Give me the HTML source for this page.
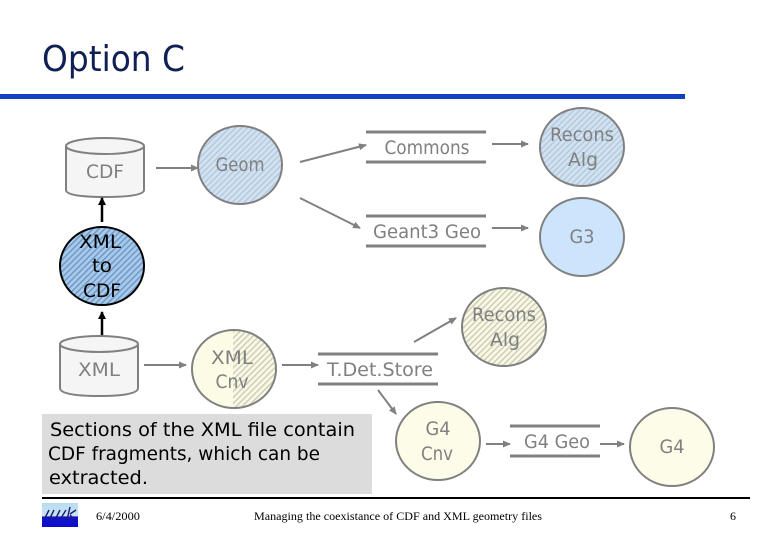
<!DOCTYPE html>
<html><head><meta charset="utf-8"><style>
html,body{margin:0;padding:0;background:#fff;width:780px;height:540px;overflow:hidden}
svg{display:block}
text{font-family:"DejaVu Sans","Liberation Sans",sans-serif}
.g{fill:#808080;font-size:19px;text-anchor:middle}
.k{fill:#000;font-size:19px}
.s{font-family:"Liberation Serif",serif;font-size:12px;fill:#000}
.c{stroke:#808080;stroke-width:2}
.b{stroke:#808080;stroke-width:3}
.a{stroke:#808080;stroke-width:2;fill:none}
</style></head><body>
<svg width="780" height="540" viewBox="0 0 780 540" xmlns="http://www.w3.org/2000/svg">
<defs>
<pattern id="h1" width="4.2" height="4.2" patternUnits="userSpaceOnUse" patternTransform="rotate(45)"><rect width="4.2" height="4.2" fill="#d0e3f5"/><rect width="1.5" height="4.2" fill="#b8c9d8"/></pattern>
<pattern id="h2" width="4.2" height="4.2" patternUnits="userSpaceOnUse" patternTransform="rotate(45)"><rect width="4.2" height="4.2" fill="#a0ccf6"/><rect width="1.5" height="4.2" fill="#7d97b2"/></pattern>
<pattern id="h3" width="4.2" height="4.2" patternUnits="userSpaceOnUse" patternTransform="rotate(45)"><rect width="4.2" height="4.2" fill="#f9f9e6"/><rect width="1.5" height="4.2" fill="#cdcdb8"/></pattern>
<marker id="m" markerWidth="8" markerHeight="8" refX="7" refY="3.5" orient="auto" markerUnits="userSpaceOnUse"><path d="M0 0L8 3.5L0 7z" fill="#808080"/></marker>
<marker id="mk" markerWidth="8" markerHeight="8" refX="7" refY="4" orient="auto" markerUnits="userSpaceOnUse"><path d="M0 0L8 4L0 8z" fill="#000"/></marker>
<linearGradient id="lg" x1="0" y1="0" x2="0" y2="1"><stop offset="0" stop-color="#b8dcf0"/><stop offset=".55" stop-color="#c8e4f0"/><stop offset=".56" stop-color="#1414c8"/><stop offset="1" stop-color="#0c0cd0"/></linearGradient>
</defs>

<text x="42" y="71" font-size="36" fill="#101f55" textLength="143" lengthAdjust="spacingAndGlyphs">Option C</text>
<rect x="0" y="94" width="685" height="5" fill="#1240c0"/>

<!-- CDF cylinder -->
<path d="M66 146V190Q66 197 105 197Q144 197 144 190V146" fill="#f5f5f5" stroke="#808080" stroke-width="2"/>
<ellipse cx="105" cy="146" rx="39" ry="8" fill="#f5f5f5" stroke="#808080" stroke-width="2"/>
<text class="g" x="105" y="178" textLength="38" lengthAdjust="spacingAndGlyphs">CDF</text>

<!-- Geom -->
<line class="a" x1="156" y1="168" x2="198" y2="168" marker-end="url(#m)"/>
<ellipse class="c" cx="240" cy="165" rx="42" ry="39" fill="url(#h1)"/>
<text class="g" x="240" y="171" textLength="49" lengthAdjust="spacingAndGlyphs">Geom</text>

<!-- XML to CDF -->
<line x1="102" y1="222" x2="102" y2="198" stroke="#000" stroke-width="2.5" marker-end="url(#mk)"/>
<ellipse cx="102" cy="266" rx="42" ry="39" fill="url(#h2)" stroke="#000" stroke-width="2"/>
<text class="k" x="100" y="248" text-anchor="middle" textLength="42" lengthAdjust="spacingAndGlyphs">XML</text>
<text class="k" x="102" y="272" text-anchor="middle" textLength="20" lengthAdjust="spacingAndGlyphs">to</text>
<text class="k" x="102" y="297" text-anchor="middle" textLength="38" lengthAdjust="spacingAndGlyphs">CDF</text>
<line x1="102" y1="336" x2="102" y2="312" stroke="#000" stroke-width="2.5" marker-end="url(#mk)"/>

<!-- XML cylinder -->
<path d="M60 344V388Q60 396 99 396Q138 396 138 388V344" fill="#f5f5f5" stroke="#808080" stroke-width="2"/>
<ellipse cx="99" cy="344" rx="39" ry="8" fill="#f5f5f5" stroke="#808080" stroke-width="2"/>
<text class="g" x="99" y="376" textLength="42" lengthAdjust="spacingAndGlyphs">XML</text>

<!-- XML Cnv -->
<line class="a" x1="144" y1="365" x2="186" y2="365" marker-end="url(#m)"/>
<ellipse cx="234" cy="369" rx="42" ry="39" fill="#fbfbe6"/>
<path d="M233 330A42 39 0 0 1 233 408z" fill="url(#h3)"/>
<ellipse class="c" cx="234" cy="369" rx="42" ry="39" fill="none"/>
<text class="g" x="232" y="364" textLength="42" lengthAdjust="spacingAndGlyphs">XML</text>
<text class="g" x="232" y="388" textLength="33" lengthAdjust="spacingAndGlyphs">Cnv</text>
<line class="a" x1="282" y1="365" x2="318" y2="365" marker-end="url(#m)"/>

<!-- T.Det.Store -->
<line class="b" x1="318" y1="354" x2="438" y2="354"/>
<line class="b" x1="318" y1="384" x2="438" y2="384"/>
<text class="g" x="380" y="376" textLength="106" lengthAdjust="spacingAndGlyphs">T.Det.Store</text>

<!-- Commons -->
<line class="a" x1="300" y1="162" x2="366" y2="145" marker-end="url(#m)"/>
<line class="b" x1="366" y1="132" x2="486" y2="132"/>
<line class="b" x1="366" y1="162" x2="486" y2="162"/>
<text class="g" x="427" y="154" textLength="85" lengthAdjust="spacingAndGlyphs">Commons</text>
<line class="a" x1="492" y1="144" x2="528" y2="144" marker-end="url(#m)"/>
<ellipse class="c" cx="582" cy="147" rx="42" ry="39" fill="url(#h1)"/>
<text class="g" x="582" y="141" textLength="64" lengthAdjust="spacingAndGlyphs">Recons</text>
<text class="g" x="583" y="166" textLength="30" lengthAdjust="spacingAndGlyphs">Alg</text>

<!-- Geant3 -->
<line class="a" x1="300" y1="198" x2="360" y2="228" marker-end="url(#m)"/>
<line class="b" x1="366" y1="216" x2="486" y2="216"/>
<line class="b" x1="366" y1="246" x2="486" y2="246"/>
<text class="g" x="427" y="238" textLength="108" lengthAdjust="spacingAndGlyphs">Geant3 Geo</text>
<line class="a" x1="492" y1="228" x2="528" y2="228" marker-end="url(#m)"/>
<ellipse class="c" cx="582" cy="237" rx="42" ry="39" fill="#cde5fc"/>
<text class="g" x="582" y="243" textLength="25" lengthAdjust="spacingAndGlyphs">G3</text>

<!-- Recons 2 -->
<line class="a" x1="414" y1="342" x2="456" y2="318" marker-end="url(#m)"/>
<ellipse class="c" cx="504" cy="327" rx="42" ry="39" fill="url(#h3)"/>
<text class="g" x="504" y="321" textLength="64" lengthAdjust="spacingAndGlyphs">Recons</text>
<text class="g" x="505" y="346" textLength="30" lengthAdjust="spacingAndGlyphs">Alg</text>

<!-- G4 Cnv -->
<line class="a" x1="378" y1="390" x2="396" y2="414" marker-end="url(#m)"/>
<ellipse class="c" cx="438" cy="441" rx="42" ry="39" fill="#fcfce9"/>
<text class="g" x="438" y="435" textLength="25" lengthAdjust="spacingAndGlyphs">G4</text>
<text class="g" x="437" y="460" textLength="32" lengthAdjust="spacingAndGlyphs">Cnv</text>
<line class="a" x1="486" y1="444" x2="510" y2="444" marker-end="url(#m)"/>

<!-- G4 Geo -->
<line class="b" x1="510" y1="426" x2="600" y2="426"/>
<line class="b" x1="510" y1="456" x2="600" y2="456"/>
<text class="g" x="557" y="448" textLength="66" lengthAdjust="spacingAndGlyphs">G4 Geo</text>
<line class="a" x1="600" y1="444" x2="624" y2="444" marker-end="url(#m)"/>
<ellipse class="c" cx="672" cy="447" rx="42" ry="39" fill="#fcfce9"/>
<text class="g" x="672" y="453" textLength="25" lengthAdjust="spacingAndGlyphs">G4</text>

<!-- Note -->
<rect x="42" y="414" width="330" height="80" fill="#dcdcdc"/>
<text class="k" x="50" y="436" textLength="305" lengthAdjust="spacingAndGlyphs">Sections of the XML file contain</text>
<text class="k" x="48" y="460" textLength="272" lengthAdjust="spacingAndGlyphs">CDF fragments, which can be</text>
<text class="k" x="49" y="484" textLength="99" lengthAdjust="spacingAndGlyphs">extracted.</text>

<!-- Footer -->
<rect x="42" y="497" width="708" height="2" fill="#000"/>
<rect x="42" y="503" width="36" height="24" fill="url(#lg)"/>
<path d="M44 520L49 510M49 520L54 510M55 520L60 510M61 518L66 510M67 520L70 507M70 514L76 510M70 515L76 521" stroke="#1a1a70" stroke-width="1.4" fill="none"/>
<text class="s" x="96" y="520" textLength="44" lengthAdjust="spacingAndGlyphs">6/4/2000</text>
<text class="s" x="254" y="520" textLength="288" lengthAdjust="spacingAndGlyphs">Managing the coexistance of CDF and XML geometry files</text>
<text class="s" x="730" y="520">6</text>
</svg>
</body></html>
